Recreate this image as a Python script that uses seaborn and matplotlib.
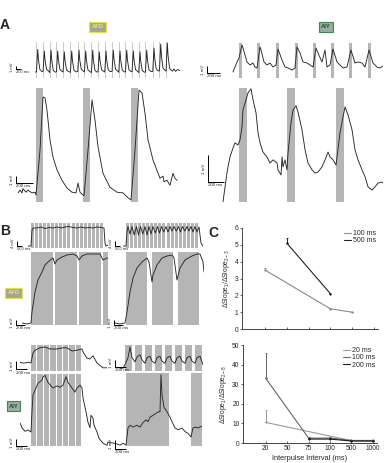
import matplotlib
matplotlib.use("Agg")
import matplotlib.pyplot as plt
import seaborn as sns

# --- figure geometry (pixels) ---
W, H = 385, 463

# --- panel C data ---
CATS = ["20", "50", "75", "100", "500", "1000"]

C_TOP_100_X = ["20", "100", "500"]
C_TOP_100_Y = [3.5, 1.2, 1.0]
C_TOP_100_ERR = [0.12, 0.03, 0.02]
C_TOP_500_X = ["50", "100"]
C_TOP_500_Y = [5.1, 2.1]
C_TOP_500_ERR = [0.3, 0.05]

C_BOT_20_X = ["20", "500", "1000"]
C_BOT_20_Y = [10.5, 1.2, 1.0]
C_BOT_20_ERR = [6.5, 0.2, 0.2]
C_BOT_100_X = ["20", "75", "100", "500", "1000"]
C_BOT_100_Y = [33.0, 2.5, 2.5, 1.3, 1.3]
C_BOT_100_ERR = [13.0, 0.5, 0.5, 0.2, 0.2]
C_BOT_200_X = ["75", "100", "500", "1000"]
C_BOT_200_Y = [2.0, 2.0, 1.0, 1.0]
C_BOT_200_ERR = [0.4, 0.4, 0.2, 0.2]

# --- panel A: AFD spike train (ms, mV) ---
AFD_TRAIN_T = [108, 372, 640, 908, 1172, 1468, 1760, 2028, 2308, 2572,
               2840, 3132, 3400, 3668, 3932, 4200, 4468, 4760, 5028, 5292]
AFD_TRAIN_PEAK = [9.5, 9.0, 9.3, 9.0, 8.7, 9.0, 9.3, 9.0, 9.3, 8.7,
                  9.0, 9.3, 9.0, 9.3, 9.0, 8.7, 9.3, 10.0, 11.3, 11.7]
AFD_TRAIN_BASE = [2.0, 2.2, 1.8, 2.1, 2.0, 1.9, 2.2, 2.0, 1.8, 2.1,
                  2.0, 2.2, 1.9, 2.0, 2.1, 1.8, 2.0, 2.2, 2.4, 2.3]
SPIKE_DT = [-50, 0, 30, 90, 170]
SPIKE_FRAC = [0.0, 1.0, 0.55, 0.1, 0.02]
AFD_TRAIN_TAIL_T = [5500, 5560, 5620, 5700, 5800]
AFD_TRAIN_TAIL_V = [2.3, 3.0, 2.2, 2.8, 2.5]

# --- panel A: AFD, 3 pulses ---
AFD3_T = [0, 24, 48, 60, 96, 120, 168, 204, 216, 264, 300, 324, 348, 384, 420,
          468, 528, 588, 648, 696, 720, 744, 780, 792, 840, 888, 924, 960, 1020,
          1104, 1188, 1260, 1320, 1356, 1404, 1452, 1488, 1524, 1560, 1620, 1704,
          1740, 1752, 1788, 1824, 1860, 1884, 1908]
AFD3_V = [1.3, 1.7, 1.3, 1.9, 1.4, 1.7, 1.3, 1.4, 1.0, 7.4, 15.0, 14.9, 13.1, 8.9,
          6.4, 4.6, 3.1, 2.0, 1.4, 1.3, 2.7, 1.4, 1.0, 0.9, 7.4, 14.6, 11.7, 7.9,
          4.1, 2.1, 1.4, 1.3, 0.6, 0.3, 7.4, 16.0, 15.6, 12.7, 8.9, 6.0, 3.4, 3.7,
          2.9, 3.1, 2.4, 4.1, 3.4, 3.1]
AFD3_STIM = [216, 780, 1356]

# --- panel A: AIY, 8 pulses ---
AIY8_T = [15, 75, 105, 150, 165, 225, 270, 315, 345, 375, 420, 435, 480, 525, 570,
          615, 660, 690, 750, 795, 840, 900, 945, 975, 1020, 1065, 1125, 1170,
          1215, 1260, 1290, 1350, 1395, 1425, 1470, 1515, 1575, 1620, 1665, 1725,
          1785, 1845, 1890, 1950, 1995, 2055, 2115, 2175, 2220, 2265]
AIY8_V = [0.86, 2.29, 2.86, 4.71, 4.29, 2.29, 1.86, 2.14, 1.57, 1.43, 4.43, 4.0,
          2.29, 1.86, 2.14, 1.57, 1.86, 4.14, 2.57, 1.57, 1.43, 1.14, 1.43, 4.43,
          3.57, 2.29, 2.14, 1.86, 1.57, 4.29, 3.57, 2.29, 4.0, 1.57, 1.86, 4.14,
          2.29, 1.86, 1.43, 1.57, 4.0, 2.14, 2.29, 2.14, 1.57, 4.0, 2.14, 1.57,
          1.43, 1.71]
AIY8_STIM = [105, 375, 660, 945, 1215, 1485, 1755, 2040]

# --- panel A: AIY, 3 pulses ---
AIY3_T = [12, 38, 62, 75, 100, 138, 162, 200, 225, 250, 262, 300, 325, 362, 388,
          425, 450, 475, 512, 562, 600, 638, 688, 700, 738, 750, 762, 788, 812,
          825, 862, 888, 925, 950, 1000, 1038, 1075, 1125, 1162, 1200, 1250, 1288,
          1325, 1350, 1388, 1425, 1438, 1475, 1512, 1538, 1575, 1625, 1662, 1700,
          1750, 1788, 1825, 1875, 1912, 1950, 2000, 2012]
AIY3_V = [0.0, 0.56, 1.07, 1.30, 1.67, 2.0, 2.19, 2.11, 2.30, 2.78, 3.41, 3.78,
          4.04, 4.19, 3.78, 3.30, 2.56, 2.19, 1.85, 1.67, 1.44, 1.56, 1.44, 1.19,
          1.0, 1.67, 1.30, 1.56, 1.19, 1.81, 2.93, 3.41, 3.56, 3.33, 2.67, 1.93,
          1.44, 1.19, 1.07, 1.11, 1.30, 1.56, 1.85, 1.67, 1.56, 1.37, 1.67, 2.56,
          3.15, 3.52, 3.22, 2.67, 1.93, 1.56, 1.19, 0.93, 0.56, 0.44, 0.56, 0.70,
          0.74, 0.70]
AIY3_STIM = [212, 812, 1425]

# --- panel B: AFD trains (ms, mV) ---
B_TRAIN_STIM = [300, 705, 1110, 1515, 1920, 2325, 2730, 3135, 3540,
                3945, 4350, 4755, 5160, 5565, 5970, 6375, 6780, 7185]
B_AFD_TR_L_T = [0, 300, 400, 500, 900, 1300, 1700, 2100, 2500, 2900, 3300, 3700,
                4100, 4500, 4900, 5300, 5700, 6100, 6500, 6900, 7300, 7600, 7700,
                7800, 8000]
B_AFD_TR_L_V = [1.6, 1.6, 14.4, 16.0, 16.0, 16.8, 15.6, 16.4, 16.0, 16.8, 16.0,
                16.8, 17.2, 16.4, 16.0, 16.8, 16.0, 16.4, 16.0, 16.8, 16.4, 16.0,
                4.0, 1.6, 2.4]
B_AFD_TR_R_T = [0, 300, 400, 500, 700, 900, 1125, 1350, 1550, 1750, 1975, 2200,
                2400, 2600, 2800, 3000, 3225, 3450, 3650, 3850, 4075, 4300, 4500,
                4700, 4900, 5100, 5325, 5550, 5750, 5950, 6175, 6400, 6600, 6800,
                7000, 7200, 7400, 7600, 7800, 8000]
B_AFD_TR_R_V = [1.6, 1.6, 12.8, 17.2, 11.2, 17.2, 10.4, 17.2, 10.4, 17.2, 11.2,
                17.2, 10.4, 17.2, 11.2, 17.2, 12.0, 17.2, 12.0, 17.2, 12.8, 17.2,
                12.8, 17.2, 13.6, 17.2, 13.6, 17.2, 12.8, 17.2, 13.6, 17.2, 13.6,
                17.2, 12.8, 17.2, 12.8, 16.8, 4.0, 1.6]

# --- panel B: AFD long pulses ---
B_AFD_L_STIM = [198, 726, 1254, 1782]
B_AFD_L_T = [0, 110, 198, 220, 286, 352, 440, 506, 572, 682, 726, 770, 880, 990,
             1122, 1210, 1254, 1320, 1430, 1562, 1716, 1760, 1782, 1870, 1892]
B_AFD_L_V = [0.4, 0.2, 0.4, 2.6, 6.6, 9.0, 10.6, 12.0, 12.6, 13.4, 12.2, 13.0,
             13.6, 14.0, 14.2, 13.8, 13.0, 13.8, 14.2, 14.2, 14.2, 13.4, 13.0,
             13.4, 13.4]
B_AFD_R_STIM = [242, 814, 1386]
B_AFD_R_T = [0, 110, 220, 264, 330, 396, 484, 594, 704, 748, 814, 836, 924, 1034,
             1144, 1254, 1298, 1364, 1430, 1540, 1694, 1804, 1870, 1936, 1958]
B_AFD_R_V = [0.4, 0.2, 0.4, 2.6, 6.6, 9.4, 11.4, 12.6, 13.4, 12.6, 8.6, 10.0,
             12.0, 13.4, 13.8, 14.0, 13.4, 9.0, 11.4, 13.0, 13.8, 14.2, 14.2,
             12.6, 10.6]

# --- panel B: AIY ---
B_AIY_L_STIM = [198, 313, 428, 543, 658, 773, 888, 1003]
B_AIY_LS_T = [0, 36, 90, 144, 198, 234, 270, 360, 450, 540, 666, 774, 846, 936,
              1026, 1116, 1134, 1206, 1260, 1314, 1386, 1494, 1566]
B_AIY_LS_V = [1.1, 1.0, 1.0, 1.1, 1.0, 2.25, 2.6, 2.9, 3.0, 2.75, 2.75, 2.9, 2.9,
              2.5, 2.6, 2.75, 2.4, 1.6, 1.5, 1.9, 1.0, 0.4, 0.4]
B_AIY_LB_T = [0, 36, 90, 144, 198, 216, 234, 288, 324, 396, 414, 450, 504, 558,
              594, 666, 720, 774, 828, 864, 936, 990, 1026, 1080, 1116, 1134, 1188,
              1224, 1260, 1278, 1314, 1332, 1386, 1422, 1494, 1566, 1584]
B_AIY_LB_V = [3.3, 2.6, 2.1, 2.3, 2.0, 4.9, 7.3, 8.3, 9.0, 9.4, 9.9, 10.1, 9.1,
              8.6, 8.3, 8.6, 8.4, 8.7, 9.9, 9.1, 8.3, 7.7, 8.3, 8.7, 8.3, 6.9, 4.9,
              3.4, 2.6, 4.4, 4.0, 3.0, 2.0, 1.1, 0.4, 0.1, 0.6]
B_AIY_R_STIM = [90, 270, 450, 630, 810, 990, 1170, 1350]
B_AIY_RS_T = [0, 54, 90, 144, 180, 216, 270, 306, 360, 396, 450, 486, 540, 576,
              630, 666, 720, 756, 810, 846, 900, 936, 990, 1026, 1080, 1116, 1170,
              1206, 1260, 1296, 1350, 1386, 1440, 1494]
B_AIY_RS_V = [0.4, 0.4, 0.9, 1.9, 3.4, 1.9, 1.3, 2.0, 2.3, 1.6, 1.1, 1.9, 2.1,
              1.4, 1.1, 1.9, 2.1, 1.4, 1.1, 1.9, 2.1, 1.4, 1.1, 1.9, 2.1, 1.4, 1.1,
              1.9, 2.1, 1.4, 1.1, 1.9, 2.1, 0.9]
B_AIY_RB_STIM = [324, 1494]
B_AIY_RB_T = [0, 126, 216, 270, 324, 360, 396, 450, 522, 576, 630, 684, 720, 756,
              810, 882, 918, 936, 954, 972, 1008, 1062, 1116, 1152, 1206, 1260,
              1332, 1386, 1440, 1494, 1530, 1584, 1620, 1692]
B_AIY_RB_V = [0.4, 0.3, 0.1, 0.3, 0.1, 2.0, 2.3, 2.1, 2.3, 2.1, 2.6, 2.9, 2.7,
              3.2, 3.4, 3.7, 3.8, 3.8, 7.9, 5.7, 4.3, 3.8, 3.2, 2.7, 2.0, 1.8, 2.0,
              1.6, 1.4, 1.0, 2.0, 2.1, 2.0, 2.2]

# --- style ---
sns.set_style("ticks")
plt.rcParams["font.family"] = ["Liberation Sans", "DejaVu Sans"]
plt.rcParams["mathtext.default"] = "regular"

TRACE = "#262626"
STIM = "#b5b5b5"
STIM_LIGHT = "#cacaca"

fig = plt.figure(figsize=(W / 100, H / 100), dpi=100)


def px_axes(left, top, right, bottom):
    return fig.add_axes([left / W, 1 - bottom / H, (right - left) / W, (bottom - top) / H])


def trace(rect, t, v, xlim, ylim, stim=(), width=0, stim_color=STIM):
    ax = px_axes(*rect)
    for s in stim:
        ax.axvspan(s, s + width, color=stim_color, lw=0, zorder=0)
    sns.lineplot(x=t, y=v, ax=ax, color=TRACE, lw=0.65, sort=False, estimator=None)
    ax.set_xlim(*xlim)
    ax.set_ylim(*ylim)
    ax.axis("off")
    return ax


def scalebar(ax, x, y, dx, dy, xtxt, ytxt, fs=3.2):
    ax.plot([x, x, x + dx], [y + dy, y, y], color="k", lw=0.7, clip_on=False,
            solid_capstyle="butt")
    ax.annotate(ytxt, (x, y + dy / 2), xytext=(-1.2, 0), textcoords="offset points",
                rotation=90, ha="right", va="center", fontsize=fs,
                annotation_clip=False)
    ax.annotate(xtxt, (x, y), xytext=(0, -0.8), textcoords="offset points",
                ha="left", va="top", fontsize=fs, annotation_clip=False)


def cell_tag(x, y, txt, kind):
    if kind == "AFD":
        fc, ec, tc = "#a4a49a", "#e4e44a", "#e6e67a"
    else:
        fc, ec, tc = "#98ae9f", "#3f8458", "#2e4a3a"
    fig.text(x / W, 1 - y / H, txt, ha="center", va="center", fontsize=4.2,
             fontweight="bold", color=tc,
             bbox=dict(boxstyle="square,pad=0.35", fc=fc, ec=ec, lw=0.8))


# ---------------- Panel A ----------------
fig.text(5 / W, 1 - 25 / H, "A", fontsize=10, fontweight="bold", ha="center", va="center")
cell_tag(97.5, 27, "AFD", "AFD")
cell_tag(326, 27, "AIY", "AIY")

# AFD spike train built from the listed spike times / peaks
tr_t, tr_v = [0], [2.0]
for tp, pk, b in zip(AFD_TRAIN_T, AFD_TRAIN_PEAK, AFD_TRAIN_BASE):
    for dt, fr in zip(SPIKE_DT, SPIKE_FRAC):
        tr_t.append(tp + dt)
        tr_v.append(b + fr * (pk - b))
tr_t += AFD_TRAIN_TAIL_T
tr_v += AFD_TRAIN_TAIL_V
ax = trace((35, 42, 180, 78), tr_t, tr_v, (0, 5800), (0, 12),
           [t - 60 for t in AFD_TRAIN_T], 45, STIM_LIGHT)
scalebar(ax, -760, 3.0, 200, 1.0, "200 ms", "1 mV", fs=3.0)

ax = trace((18, 88, 178, 202), AFD3_T, AFD3_V, (0, 1920), (0, 16.3), AFD3_STIM, 88)
scalebar(ax, -24, 2.7, 200, 1.0, "200 ms", "1 mV")

ax = trace((232, 43, 383, 78), AIY8_T, AIY8_V, (0, 2265), (0, 5.0), AIY8_STIM, 52)
scalebar(ax, -375, 0.71, 200, 1.0, "200 ms", "1 mV")

ax = trace((222, 88, 383, 202), AIY3_T, AIY3_V, (0, 2012), (0, 4.22), AIY3_STIM, 100)
scalebar(ax, -175, 0.74, 200, 1.0, "200 ms", "1 mV")

# ---------------- Panel B ----------------
fig.text(5 / W, 1 - 231 / H, "B", fontsize=10, fontweight="bold", ha="center", va="center")
cell_tag(13.5, 293, "AFD", "AFD")
cell_tag(13.5, 406, "AIY", "AIY")

ax = trace((28, 223, 108, 248), B_AFD_TR_L_T, B_AFD_TR_L_V, (0, 8000), (0, 20),
           B_TRAIN_STIM, 300)
scalebar(ax, -1100, 1.6, 500, 4.0, "500 ms", "4 mV", fs=3.0)
ax = trace((123, 223, 203, 248), B_AFD_TR_R_T, B_AFD_TR_R_V, (0, 8000), (0, 20),
           B_TRAIN_STIM, 300)
scalebar(ax, -800, 1.6, 500, 4.0, "500 ms", "4 mV", fs=3.0)

ax = trace((22, 252, 108, 325), B_AFD_L_T, B_AFD_L_V, (0, 1892), (0, 14.6),
           B_AFD_L_STIM, 484)
scalebar(ax, -132, 0, 200, 1.0, "200 ms", "1 mV")
ax = trace((115, 252, 204, 325), B_AFD_R_T, B_AFD_R_V, (0, 1958), (0, 14.6),
           B_AFD_R_STIM, 462)
scalebar(ax, -22, 0, 200, 1.0, "200 ms", "1 mV")

ax = trace((20, 345, 107, 371), B_AIY_LS_T, B_AIY_LS_V, (0, 1566), (0, 3.25),
           B_AIY_L_STIM, 96)
scalebar(ax, -72, 0.2, 200, 1.0, "200 ms", "1 mV")
ax = trace((20, 374, 108, 446), B_AIY_LB_T, B_AIY_LB_V, (0, 1584), (0, 10.3),
           B_AIY_L_STIM, 96)
scalebar(ax, -72, 0, 200, 1.0, "200 ms", "1 mV")

ax = trace((120, 345, 203, 371), B_AIY_RS_T, B_AIY_RS_V, (0, 1494), (0, 3.7),
           B_AIY_R_STIM, 126)
scalebar(ax, -90, 0.6, 200, 1.0, "200 ms", "1 mV")
ax = trace((108, 373, 202, 446), B_AIY_RB_T, B_AIY_RB_V, (0, 1692), (0, 8.1),
           B_AIY_RB_STIM, 774)
scalebar(ax, 126, -0.3, 200, 1.0, "200 ms", "1 mV")

# ---------------- Panel C ----------------
fig.text(213 / W, 1 - 233 / H, "C", fontsize=10, fontweight="bold", ha="center", va="center")

TICK_FS = 4.8


def cplot(ax, xs, ys, errs, color, label):
    idx = [CATS.index(x) for x in xs]
    sns.lineplot(x=idx, y=ys, ax=ax, color=color, lw=0.8, label=label, estimator=None)
    ax.plot(idx, ys, ls="none", marker="o", ms=1.6, mew=0, color=color)
    ax.errorbar(idx, ys, yerr=[[0] * len(errs), errs], fmt="none", ecolor=color,
                elinewidth=0.7, capsize=1.0, capthick=0.6)


def style_c(ax, labels):
    ax.set_xlim(-1.06, 5.19)
    ax.set_xticks(range(len(CATS)))
    ax.set_xticklabels(CATS if labels else [])
    sns.despine(ax=ax)
    for s in ("left", "bottom"):
        ax.spines[s].set_linewidth(0.6)
    ax.tick_params(axis="x", direction="in", length=1.8, width=0.5, labelsize=TICK_FS, pad=1.5)
    ax.tick_params(axis="y", direction="out", length=1.5, width=0.5, labelsize=TICK_FS, pad=1)
    ax.legend(loc="upper right", fontsize=5.0, frameon=False, handlelength=1.1,
              handletextpad=0.2, labelspacing=0.05, borderaxespad=0.2, borderpad=0.1)


ax = px_axes(242, 228, 378, 329)
cplot(ax, C_TOP_100_X, C_TOP_100_Y, C_TOP_100_ERR, "#8a8a8a", "100 ms")
cplot(ax, C_TOP_500_X, C_TOP_500_Y, C_TOP_500_ERR, "#222222", "500 ms")
ax.set_ylim(0, 6)
ax.set_yticks(range(7))
style_c(ax, False)
ax.set_ylabel("ΔSlope$_1$/ΔSlope$_{2-3}$", fontsize=4.8, labelpad=2)

ax = px_axes(243, 345, 377, 443)
cplot(ax, C_BOT_20_X, C_BOT_20_Y, C_BOT_20_ERR, "#9a9a9a", "20 ms")
cplot(ax, C_BOT_100_X, C_BOT_100_Y, C_BOT_100_ERR, "#666666", "100 ms")
cplot(ax, C_BOT_200_X, C_BOT_200_Y, C_BOT_200_ERR, "#1e1e1e", "200 ms")
ax.set_ylim(0, 50)
ax.set_yticks(range(0, 51, 10))
style_c(ax, True)
ax.set_ylabel("ΔSlope$_1$/ΔSlope$_{2-8}$", fontsize=4.8, labelpad=2)
ax.set_xlabel("Interpulse Interval (ms)", fontsize=5.3, labelpad=2)

fig.savefig("out.png", dpi=100)
